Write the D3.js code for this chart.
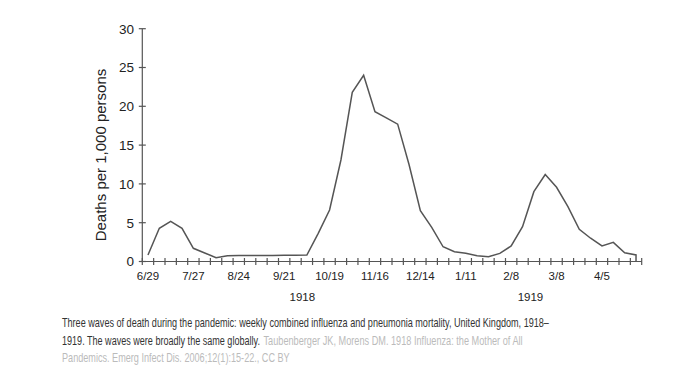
<!DOCTYPE html>
<html>
<head>
<meta charset="utf-8">
<script src="https://cdn.jsdelivr.net/npm/d3@7"></script>
<style>
  html, body { margin: 0; padding: 0; background: #fff; }
  svg { display: block; }
  text { font-family: "Liberation Sans", Arial, sans-serif; }
</style>
</head>
<body>
<svg id="chart" width="676" height="381"></svg>
<script>
// ---- data ----
const weekLabels = ["6/29","7/27","8/24","9/21","10/19","11/16","12/14","1/11","2/8","3/8","4/5"];
const labelEvery = 4; // a label every 4 weeks
const deaths = [0.84, 4.28, 5.18, 4.28, 1.70, 1.1, 0.5, 0.75, 0.78, 0.78, 0.78, 0.78, 0.8, 0.8,
  0.84, 3.63, 6.64, 13.08, 21.8, 24.0, 19.3, 18.5, 17.7, 12.5, 6.55, 4.4, 1.9, 1.26, 1.05,
  0.75, 0.62, 1.05, 2.0, 4.48, 9.0, 11.2, 9.56, 7.06, 4.15, 3.0, 2.0, 2.47, 1.13, 0.84];
const seriesEndValue = 0;
const yTicks = [0, 5, 10, 15, 20, 25, 30];
const years = ["1918", "1919"];
const yearAnchorWeeks = [13.6, 33.7];
const yTitle = "Deaths per 1,000 persons";
const captionLine1 = "Three waves of death during the pandemic: weekly combined influenza and pneumonia mortality, United Kingdom, 1918\u2013";
const captionLine2a = "1919. The waves were broadly the same globally.";
const captionLine2b = "Taubenberger JK, Morens DM. 1918 Influenza: the Mother of All";
const captionLine3 = "Pandemics. Emerg Infect Dis. 2006;12(1):15-22., CC BY";

// ---- layout ----
const svg = d3.select("#chart");
const nWeeks = deaths.length;
const x = d3.scaleLinear().domain([-0.5, nWeeks - 0.5]).range([142.3, 641.7]);
const y = d3.scaleLinear().domain([0, 30]).range([261.5, 28.7]);
const axisColor = "#555";

// y axis
const gy = svg.append("g");
gy.append("line").attr("x1", x(-0.5)).attr("x2", x(-0.5))
  .attr("y1", y(0)).attr("y2", y(30)).attr("stroke", axisColor).attr("stroke-width", 1.2);
gy.selectAll("line.t").data(yTicks).join("line").attr("class", "t")
  .attr("x1", x(-0.5) - 3.5).attr("x2", x(-0.5) + 3.5)
  .attr("y1", d => y(d)).attr("y2", d => y(d))
  .attr("stroke", axisColor).attr("stroke-width", 1.2);
gy.selectAll("text").data(yTicks).join("text")
  .attr("x", 134).attr("y", d => y(d)).attr("dy", "0.36em")
  .attr("text-anchor", "end").attr("font-size", 13.5).attr("fill", "#222")
  .text(d => d);

// x axis
const gx = svg.append("g");
gx.append("line").attr("x1", x(-0.5)).attr("x2", x(nWeeks - 0.5))
  .attr("y1", y(0)).attr("y2", y(0)).attr("stroke", axisColor).attr("stroke-width", 1.2);
const tickWeeks = d3.range(-0.5, nWeeks, 1);
gx.selectAll("line.t").data(tickWeeks).join("line").attr("class", "t")
  .attr("x1", d => x(d)).attr("x2", d => x(d))
  .attr("y1", y(0) - 3.5).attr("y2", y(0) + 3.5)
  .attr("stroke", axisColor).attr("stroke-width", 1.2);
gx.selectAll("text").data(weekLabels).join("text")
  .attr("x", (d, i) => x(i * labelEvery)).attr("y", 280)
  .attr("text-anchor", "middle").attr("font-size", 11.5).attr("fill", "#222")
  .text(d => d);
svg.selectAll("text.year").data(years).join("text").attr("class", "year")
  .attr("x", (d, i) => x(yearAnchorWeeks[i])).attr("y", 301)
  .attr("text-anchor", "middle").attr("font-size", 11.5).attr("fill", "#222")
  .text(d => d);

// y title
svg.append("text")
  .attr("transform", "translate(106,155) rotate(-90)")
  .attr("text-anchor", "middle").attr("font-size", 15).attr("fill", "#222")
  .text(yTitle);

// line
const pts = deaths.map((v, i) => [i, v]);
pts.push([nWeeks - 1, seriesEndValue]);
svg.append("path")
  .attr("d", d3.line().x(d => x(d[0])).y(d => y(d[1]))(pts))
  .attr("fill", "none").attr("stroke", "#555").attr("stroke-width", 1.5)
  .attr("stroke-linejoin", "miter");

// caption (horizontally scaled to match the narrow reference text)
function cap(txt, x0, yb, w, color) {
  const t = svg.append("text").attr("x", 0).attr("y", 0).attr("font-size", 12)
    .attr("fill", color).text(txt);
  const nat = t.node().getComputedTextLength();
  const sx = w / nat;
  t.attr("transform", `translate(${x0},${yb}) scale(${sx},1)`);
}
cap(captionLine1, 62, 327, 488, "#333");
cap(captionLine2a, 62, 344.5, 198, "#333");
cap(captionLine2b, 263.5, 344.5, 259.5, "#bbb");
cap(captionLine3, 62, 362, 228, "#bbb");
</script>
</body>
</html>
